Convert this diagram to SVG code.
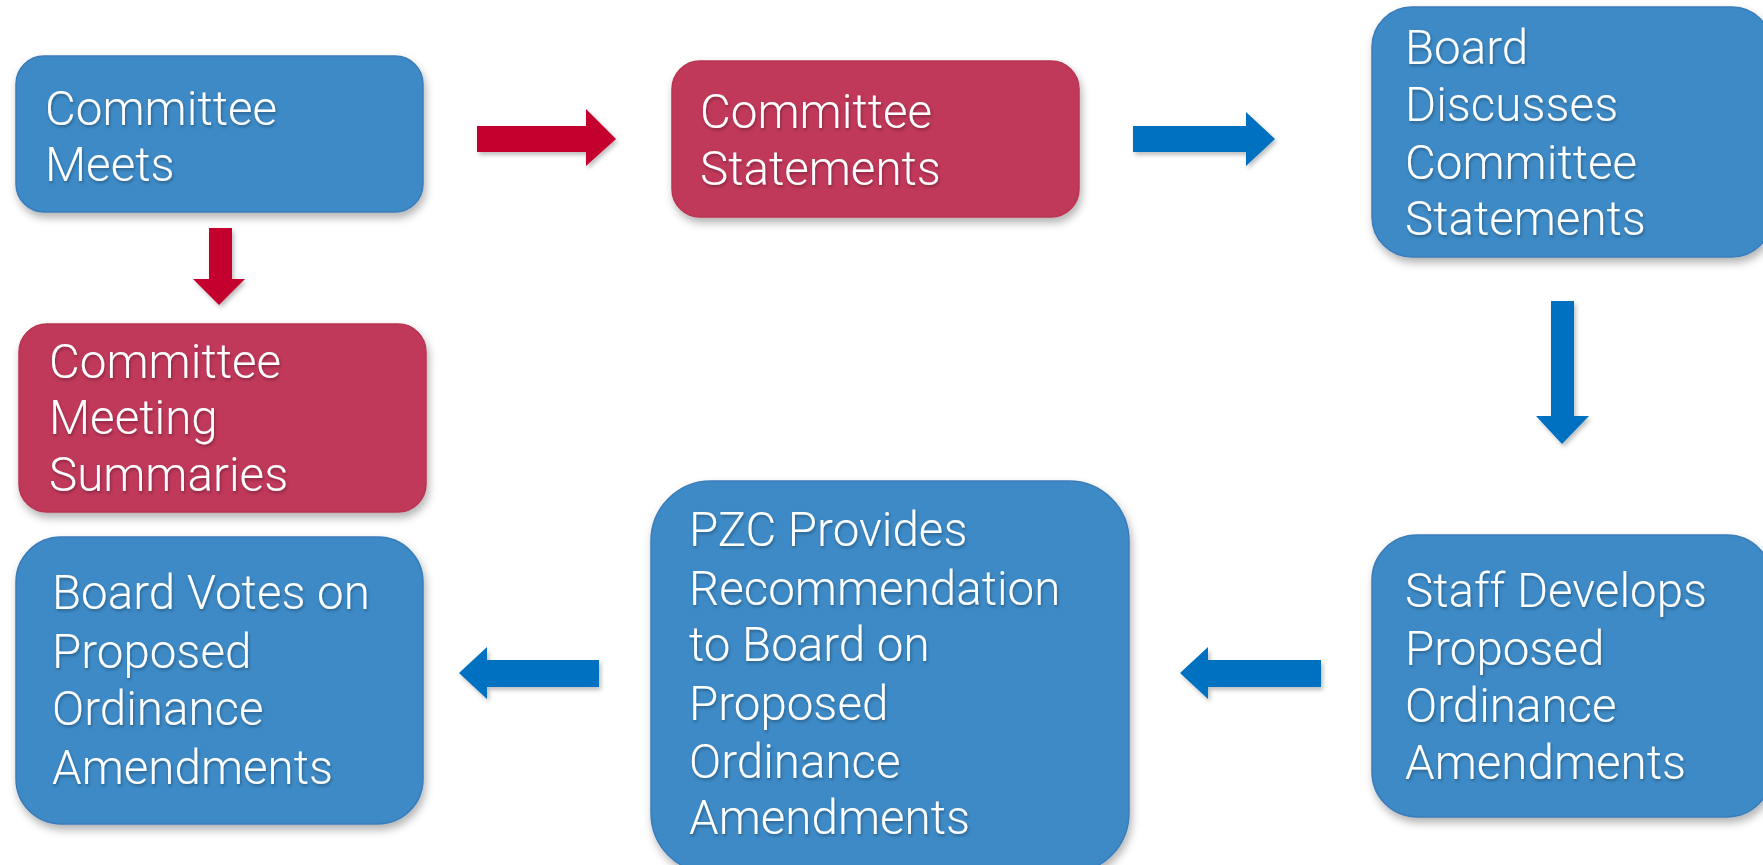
<svg xmlns="http://www.w3.org/2000/svg" width="1763" height="865" viewBox="0 0 1763 865">
<defs>
<filter id="sh" x="-10%" y="-10%" width="125%" height="130%">
<feDropShadow dx="2" dy="5" stdDeviation="4" flood-color="#000" flood-opacity="0.3"/>
</filter>
<filter id="tsh" x="-5%" y="-5%" width="110%" height="115%">
<feDropShadow dx="1" dy="2" stdDeviation="1.5" flood-color="#000" flood-opacity="0.3"/>
</filter>
<filter id="ash" x="-10%" y="-10%" width="125%" height="130%">
<feDropShadow dx="2" dy="3" stdDeviation="2" flood-color="#000" flood-opacity="0.25"/>
</filter>
</defs>
<style>
.blue{fill:#3C8AC6;stroke:#3A7CB9;stroke-width:1.5}
.red{fill:#C0395A;stroke:#B8344F;stroke-width:1.5}
.t{font-family:"Roboto Light",Roboto,"Liberation Sans",sans-serif;font-weight:300;font-size:47.5px;fill:#fff}
.ar{fill:#C4002F}
.ab{fill:#0070C0}
</style>
<rect width="1763" height="865" fill="#fff"/>
<g id="connectors" filter="url(#ash)">
<path class="ar" d="M477,126 H586 V109 L616,139 L586,166 V152 H477 Z"/>
<path class="ar" d="M209,228 H232 V279 H245 L219,305 L193,279 H209 Z"/>
<path class="ab" d="M1133,126 H1246 V112 L1275,139 L1246,166 V152 H1133 Z"/>
<path class="ab" d="M1551,301 H1574 V416 H1589 L1562,444 L1536,416 H1551 Z"/>
<path class="ab" d="M599,660 H487 V647 L459,673 L487,699 V687 H599 Z"/>
<path class="ab" d="M1321,660 H1208 V647 L1180,673 L1208,699 V687 H1321 Z"/>
</g>
<g id="n1">
<rect class="blue" x="16" y="56" width="407" height="156" rx="28" filter="url(#sh)"/>
<text class="t" filter="url(#tsh)"><tspan x="45" y="125">Committee</tspan><tspan x="45" y="181">Meets</tspan></text>
</g>
<g id="n2">
<rect class="red" x="672" y="61" width="407" height="156" rx="28" filter="url(#sh)"/>
<text class="t" filter="url(#tsh)"><tspan x="700" y="128">Committee</tspan><tspan x="700" y="185">Statements</tspan></text>
</g>
<g id="n3">
<rect class="blue" x="1372" y="7" width="400" height="250" rx="40" filter="url(#sh)"/>
<text class="t" filter="url(#tsh)"><tspan x="1405" y="64">Board</tspan><tspan x="1405" y="121">Discusses</tspan><tspan x="1405" y="179">Committee</tspan><tspan x="1405" y="235">Statements</tspan></text>
</g>
<g id="n4">
<rect class="red" x="19" y="324" width="407" height="188" rx="28" filter="url(#sh)"/>
<text class="t" filter="url(#tsh)"><tspan x="49" y="378">Committee</tspan><tspan x="49" y="434">Meeting</tspan><tspan x="49" y="491">Summaries</tspan></text>
</g>
<g id="n5">
<rect class="blue" x="16" y="537" width="407" height="287" rx="45" filter="url(#sh)"/>
<text class="t" filter="url(#tsh)"><tspan x="52" y="609">Board Votes on</tspan><tspan x="52" y="668">Proposed</tspan><tspan x="52" y="725">Ordinance</tspan><tspan x="52" y="784">Amendments</tspan></text>
</g>
<g id="n6">
<rect class="blue" x="651" y="481" width="478" height="392" rx="60" filter="url(#sh)"/>
<text class="t" filter="url(#tsh)"><tspan x="689" y="546">PZC Provides</tspan><tspan x="689" y="605">Recommendation</tspan><tspan x="689" y="661">to Board on</tspan><tspan x="689" y="720">Proposed</tspan><tspan x="689" y="778">Ordinance</tspan><tspan x="689" y="834">Amendments</tspan></text>
</g>
<g id="n7">
<rect class="blue" x="1372" y="535" width="400" height="282" rx="45" filter="url(#sh)"/>
<text class="t" filter="url(#tsh)"><tspan x="1405" y="607">Staff Develops</tspan><tspan x="1405" y="665">Proposed</tspan><tspan x="1405" y="722">Ordinance</tspan><tspan x="1405" y="779">Amendments</tspan></text>
</g>
</svg>
